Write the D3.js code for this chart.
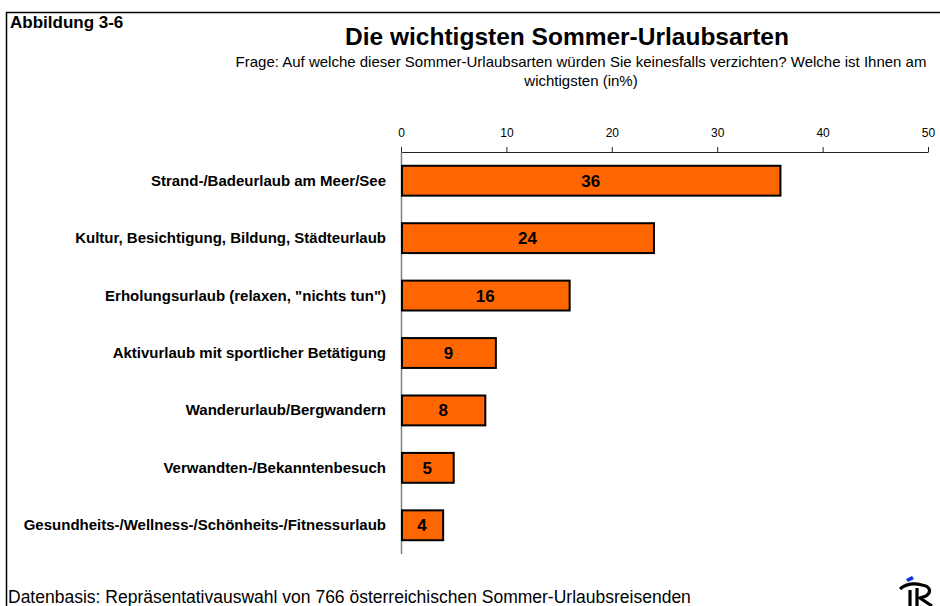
<!DOCTYPE html>
<html><head><meta charset="utf-8">
<script src="https://cdn.jsdelivr.net/npm/d3@7"></script>
<style>body{margin:0;background:#fff}svg{display:block;font-family:Arial,"Liberation Sans",sans-serif}</style>
</head><body>
<svg id="c" width="940" height="606"></svg>
<script>
const categories = ["Strand-/Badeurlaub am Meer/See","Kultur, Besichtigung, Bildung, Städteurlaub","Erholungsurlaub (relaxen, \"nichts tun\")","Aktivurlaub mit sportlicher Betätigung","Wanderurlaub/Bergwandern","Verwandten-/Bekanntenbesuch","Gesundheits-/Wellness-/Schönheits-/Fitnessurlaub"];
const values = [36,24,16,9,8,5,4];
const tickValues = [0,10,20,30,40,50];
const title = "Die wichtigsten Sommer-Urlaubsarten";
const subtitle = ["Frage: Auf welche dieser Sommer-Urlaubsarten würden Sie keinesfalls verzichten? Welche ist Ihnen am","wichtigsten (in%)"];
const figLabel = "Abbildung 3-6";
const footer = "Datenbasis: Repräsentativauswahl von 766 österreichischen Sommer-Urlaubsreisenden";

const svg = d3.select("#c");
// frame lines
svg.append("line").attr("x1",6.5).attr("x2",940).attr("y1",12.5).attr("y2",12.5).attr("stroke","#000").attr("stroke-width",1.5);
svg.append("line").attr("x1",6.5).attr("x2",6.5).attr("y1",12).attr("y2",606).attr("stroke","#000").attr("stroke-width",1.5);

svg.append("text").attr("x",10).attr("y",28).attr("font-size",17).attr("font-weight","bold").text(figLabel);
svg.append("text").attr("x",567).attr("y",45).attr("text-anchor","middle").attr("font-size",24.5).attr("font-weight","bold").text(title);
subtitle.forEach((s,i)=>svg.append("text").attr("x",581).attr("y",67+i*19).attr("text-anchor","middle").attr("font-size",15).text(s));

const x = d3.scaleLinear().domain([0,50]).range([401,928]);
const y = d3.scaleBand().domain(categories).range([152,554]).paddingInner(0.48).paddingOuter(0.24);

const ax = svg.append("g").attr("transform","translate(0,152)")
  .call(d3.axisTop(x).tickValues(tickValues).tickSize(5).tickPadding(10).tickSizeOuter(0));
ax.select(".domain").attr("stroke","#222").attr("stroke-width",1.2);
ax.selectAll(".tick line").attr("stroke","#222");
ax.selectAll(".tick text").attr("font-size",12).attr("font-family","Arial, Liberation Sans, sans-serif").attr("fill","#000");

svg.append("line").attr("x1",401.5).attr("x2",401.5).attr("y1",152).attr("y2",554).attr("stroke","#808080").attr("stroke-width",1.5);

svg.selectAll("rect.bar").data(values).join("rect").attr("class","bar")
  .attr("x",x(0)+1).attr("y",(d,i)=>y(categories[i]))
  .attr("width",d=>x(d)-x(0)-1).attr("height",y.bandwidth())
  .attr("fill","#FF6600").attr("stroke","#000").attr("stroke-width",2);

svg.selectAll("text.val").data(values).join("text").attr("class","val")
  .attr("x",d=>(x(0)+x(d))/2).attr("y",(d,i)=>y(categories[i])+y.bandwidth()/2+6)
  .attr("text-anchor","middle").attr("font-size",17).attr("font-weight","bold").text(d=>d);

svg.selectAll("text.cat").data(categories).join("text").attr("class","cat")
  .attr("x",386).attr("y",d=>y(d)+y.bandwidth()/2+5)
  .attr("text-anchor","end").attr("font-size",15).attr("font-weight","bold").text(d=>d);

svg.append("text").attr("x",8).attr("y",603).attr("font-size",17.5).text(footer);

// logo
const lg = svg.append("g").attr("transform","translate(898,576)");
lg.append("path").attr("d","M8,3 L14,0 L16,3 L10,6 Z").attr("fill","#1030e0");
lg.append("path").attr("d","M2,13 C8,8 16,7 24,9 C32,10 34,16 28,20 L22,22 L34,30").attr("fill","none").attr("stroke","#000").attr("stroke-width",3.2);
lg.append("path").attr("d","M12,14 L12,30 M19,12 L19,30").attr("fill","none").attr("stroke","#000").attr("stroke-width",3.2);
</script>
</body></html>
